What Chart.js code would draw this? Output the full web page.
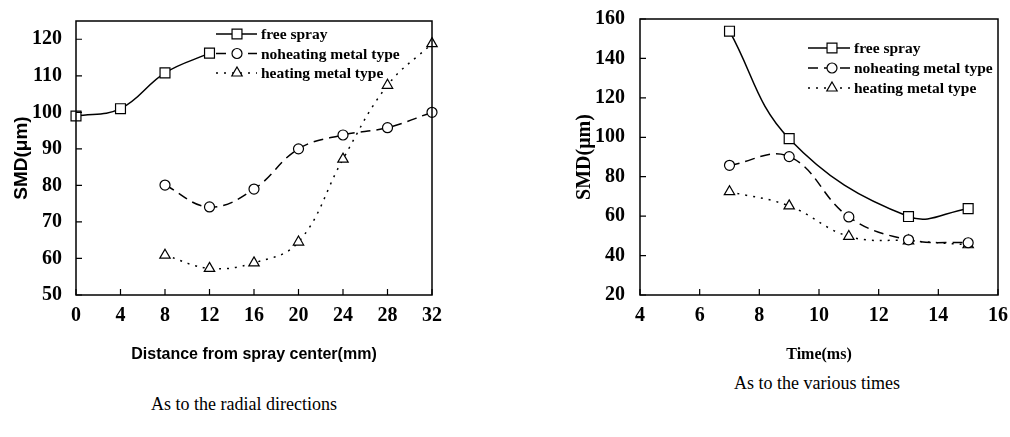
<!DOCTYPE html>
<html>
<head>
<meta charset="utf-8">
<script src="https://cdn.jsdelivr.net/npm/chart.js@4.4.0/dist/chart.umd.min.js"></script>
<style>
  body { margin: 0; background: #fff; width: 1010px; height: 437px; position: relative; overflow: hidden; }
  .box { position: absolute; top: 0; height: 370px; }
  #leftBox { left: 0; width: 460px; }
  #rightBox { left: 560px; width: 450px; }
  .caption { position: absolute; font-family: 'Liberation Serif', serif; font-size: 18px; color: #000;
             white-space: nowrap; transform: translate(-50%, -50%); }
</style>
</head>
<body>
<div class="box" id="leftBox"><canvas id="radialChart"></canvas></div>
<div class="box" id="rightBox"><canvas id="timeChart"></canvas></div>
<div class="caption" style="left:244px; top:404px;">As to the radial directions</div>
<div class="caption" style="left:817px; top:383px;">As to the various times</div>

<script>
// left chart - radial directions
const distFree = [0, 4, 8, 12];
const smdFreeDist = [99, 101, 110.8, 116.2];
const distMetal = [8, 12, 16, 20, 24, 28, 32];
const smdNoheatDist = [80.1, 74.1, 79, 90, 93.8, 95.8, 100];
const smdHeatDist = [60.9, 57.3, 58.8, 64.5, 87.2, 107.4, 118.8];

// right chart - various times
const timeFree = [7, 9, 13, 15];
const smdFreeTime = [153.8, 99.3, 59.8, 63.8];
const timeMetal = [7, 9, 11, 13, 15];
const smdNoheatTime = [85.8, 90.2, 59.6, 48, 46.5];
const smdHeatTime = [72.4, 65.2, 49.7, 47.5, 45.5];

const seriesNames = ['free spray', 'noheating metal type', 'heating metal type'];

const SERIF = "'Liberation Serif', 'Times New Roman', serif";
const SANS = "'Liberation Sans', Arial, sans-serif";

function pts(xs, ys) {
  return xs.map((x, i) => ({ x: x, y: ys[i] }));
}

function makeDatasets(xFree, yFree, xMetal, yNoheat, yHeat) {
  const common = {
    borderColor: '#000',
    backgroundColor: '#fff',
    pointBackgroundColor: '#fff',
    pointBorderColor: '#000',
    pointBorderWidth: 1.2,
    borderWidth: 1.5,
    tension: 0.4,
    clip: false
  };
  return [
    Object.assign({}, common, { label: seriesNames[0], data: pts(xFree, yFree), pointStyle: 'rect', pointRadius: 7, borderDash: [] }),
    Object.assign({}, common, { label: seriesNames[1], data: pts(xMetal, yNoheat), pointStyle: 'circle', pointRadius: 5, borderDash: [10, 6] }),
    Object.assign({}, common, { label: seriesNames[2], data: pts(xMetal, yHeat), pointStyle: 'triangle', pointRadius: 6, borderDash: [2, 6] })
  ];
}

// box around the plot + inward ticks
const framePlugin = {
  id: 'frame',
  afterDraw(chart) {
    const { ctx, chartArea: a, scales } = chart;
    ctx.save();
    ctx.strokeStyle = '#000';
    ctx.setLineDash([]);
    ctx.lineWidth = 1.5;
    ctx.strokeRect(a.left, a.top, a.right - a.left, a.bottom - a.top);
    ctx.lineWidth = 1.2;
    ctx.beginPath();
    scales.x.ticks.forEach(t => {
      const px = scales.x.getPixelForValue(t.value);
      ctx.moveTo(px, a.bottom);
      ctx.lineTo(px, a.bottom - 6);
    });
    scales.y.ticks.forEach(t => {
      const py = scales.y.getPixelForValue(t.value);
      ctx.moveTo(a.left, py);
      ctx.lineTo(a.left + 6, py);
    });
    ctx.stroke();
    ctx.restore();
  }
};

// legend drawn inside the plot area
const boxLegend = {
  id: 'boxLegend',
  afterDraw(chart, args, opts) {
    const ctx = chart.ctx;
    ctx.save();
    ctx.font = 'bold 15.5px ' + SERIF;
    ctx.textBaseline = 'middle';
    chart.data.datasets.forEach((ds, i) => {
      const y = opts.top + i * opts.rowGap;
      ctx.strokeStyle = '#000';
      ctx.lineWidth = ds.borderWidth;
      ctx.setLineDash(ds.borderDash);
      ctx.beginPath();
      ctx.moveTo(opts.left, y);
      ctx.lineTo(opts.left + opts.lineLen, y);
      ctx.stroke();
      ctx.setLineDash([]);
      ctx.fillStyle = '#fff';
      ctx.lineWidth = ds.pointBorderWidth;
      Chart.helpers.drawPoint(ctx, {
        pointStyle: ds.pointStyle, radius: ds.pointRadius,
        borderWidth: ds.pointBorderWidth, rotation: 0
      }, opts.left + opts.markerAt, y);
      ctx.fillStyle = '#000';
      ctx.fillText(ds.label, opts.left + opts.lineLen + 4, y + 1);
    });
    ctx.restore();
  }
};

function makeScales(cfg) {
  return {
    x: {
      type: 'linear', min: cfg.xMin, max: cfg.xMax,
      grid: { display: false }, border: { display: false },
      ticks: { stepSize: cfg.xStep, padding: 1, color: '#000', font: { family: SERIF, size: 20, weight: 'bold' } },
      title: { display: true, text: cfg.xTitle, color: '#000', font: cfg.xTitleFont, padding: { top: 0, bottom: 6 } },
      afterFit(scale) { scale.height = 75; }
    },
    y: {
      type: 'linear', min: cfg.yMin, max: cfg.yMax,
      grid: { display: false }, border: { display: false },
      ticks: { stepSize: cfg.yStep, includeBounds: false, padding: cfg.yPad, color: '#000', font: { family: SERIF, size: 20, weight: 'bold' } },
      title: { display: true, text: 'SMD(\u03bcm)', color: '#000', font: cfg.yTitleFont, padding: { top: cfg.yTitlePad, bottom: 0 } },
      afterFit(scale) { scale.width = cfg.yWidth; }
    }
  };
}

new Chart(document.getElementById('radialChart'), {
  type: 'line',
  data: { datasets: makeDatasets(distFree, smdFreeDist, distMetal, smdNoheatDist, smdHeatDist) },
  options: {
    responsive: true, maintainAspectRatio: false, animation: false,
    layout: { padding: { top: 21, right: 28, left: 0, bottom: 0 } },
    scales: makeScales({
      xMin: 0, xMax: 32, xStep: 4, yMin: 50, yMax: 125, yStep: 10,
      xTitle: 'Distance from spray center(mm)', xTitleFont: { family: SANS, size: 16, weight: 'bold' },
      yTitleFont: { family: SANS, size: 19, weight: 'bold' }, yTitlePad: 10, yWidth: 76, yPad: 6
    }),
    plugins: {
      legend: { display: false }, tooltip: { enabled: false },
      boxLegend: { left: 216, top: 34, rowGap: 19.5, lineLen: 41, markerAt: 21 }
    }
  },
  plugins: [framePlugin, boxLegend]
});

new Chart(document.getElementById('timeChart'), {
  type: 'line',
  data: { datasets: makeDatasets(timeFree, smdFreeTime, timeMetal, smdNoheatTime, smdHeatTime) },
  options: {
    responsive: true, maintainAspectRatio: false, animation: false,
    layout: { padding: { top: 17, right: 12, left: 0, bottom: 0 } },
    scales: makeScales({
      xMin: 4, xMax: 16, xStep: 2, yMin: 20, yMax: 160, yStep: 20,
      xTitle: 'Time(ms)', xTitleFont: { family: SERIF, size: 16, weight: 'bold' },
      yTitleFont: { family: SERIF, size: 20, weight: 'bold' }, yTitlePad: 13, yWidth: 80, yPad: 7
    }),
    plugins: {
      legend: { display: false }, tooltip: { enabled: false },
      boxLegend: { left: 248, top: 48, rowGap: 20, lineLen: 42, markerAt: 24 }
    }
  },
  plugins: [framePlugin, boxLegend]
});
</script>
</body>
</html>
